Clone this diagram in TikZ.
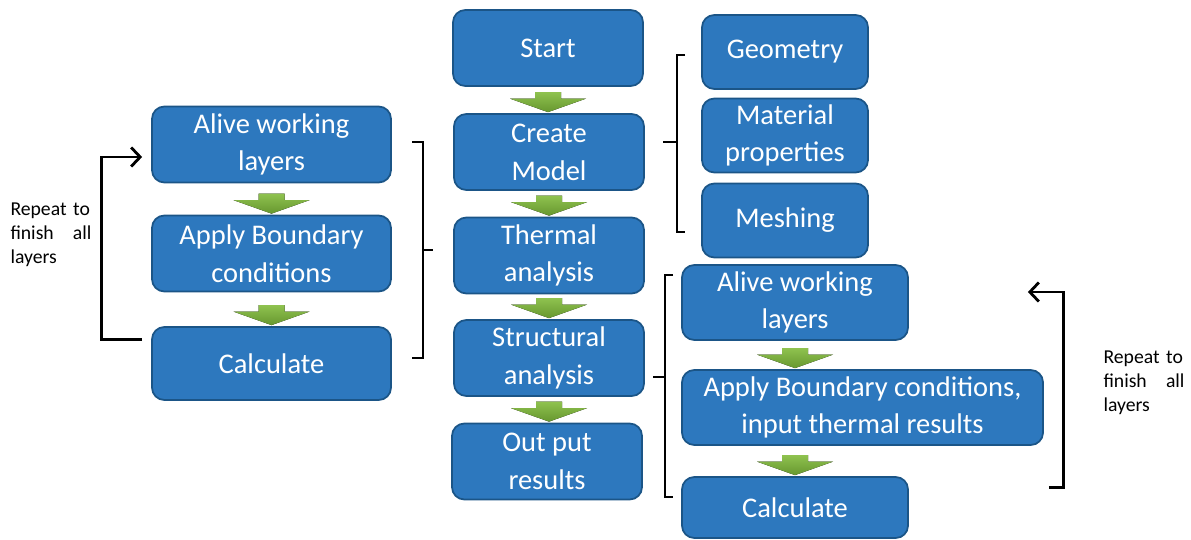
\documentclass[tikz,border=0pt]{standalone}
\usepackage{fontspec}
\setmainfont{Carlito}
\usepackage{tikz}
\usetikzlibrary{arrows.meta,calc}
\definecolor{azul}{HTML}{2D78BE}
\definecolor{borde}{HTML}{1B5587}
\definecolor{verdeA}{HTML}{8FC24F}
\definecolor{verdeB}{HTML}{67972F}

\begin{document}
\begin{tikzpicture}[
    box/.style={draw=borde,fill=azul,line width=1pt,rounded corners=7pt,
                minimum height=1.52cm,align=center,inner sep=2pt,
                font=\fontsize{16.2}{21.5}\selectfont\color{white}},
    brk/.style={line width=1.6pt,black},
    loop/.style={line width=1.6pt,black,-{Straight Barb[length=1.8mm,width=3.8mm]}},
    note/.style={text width=1.62cm,align=left,inner sep=0pt,
                 font=\fontsize{11.2}{13.8}\selectfont},
    flow/.pic={\fill[top color=verdeA,bottom color=verdeB]
        (-0.26,0.40) -- (0.26,0.40) -- (0.26,0.27) -- (0.76,0.27) -- (0,0)
        -- (-0.76,0.27) -- (-0.26,0.27) -- cycle;}]
  \useasboundingbox (0,0) rectangle (23.82,-10.8);

  % main sequence
  \node[box,minimum width=3.8cm] (start)      at (10.96,-0.96) {Start};
  \node[box,minimum width=3.8cm] (model)      at (10.98,-3.04) {Create\\Model};
  \node[box,minimum width=3.8cm] (thermal)    at (10.98,-5.11) {Thermal\\analysis};
  \node[box,minimum width=3.8cm] (structural) at (10.98,-7.16) {Structural\\analysis};
  \node[box,minimum width=3.8cm] (output)     at (10.94,-9.23) {Out put\\results};

  % model inputs
  \node[box,minimum width=3.32cm,minimum height=1.48cm] (geom) at (15.70,-1.04) {Geometry};
  \node[box,minimum width=3.32cm,minimum height=1.48cm] (mat)  at (15.70,-2.71) {Material\\properties};
  \node[box,minimum width=3.32cm,minimum height=1.48cm] (mesh) at (15.70,-4.41) {Meshing};

  % thermal loop
  \node[box,minimum width=4.78cm] (lalive) at (5.43,-2.89) {Alive working\\layers};
  \node[box,minimum width=4.78cm] (lapply) at (5.43,-5.07) {Apply Boundary\\conditions};
  \node[box,minimum width=4.78cm,minimum height=1.46cm] (lcalc) at (5.43,-7.27) {Calculate};

  % structural loop
  \node[box,minimum width=4.52cm,minimum height=1.5cm] (ralive) at (15.90,-6.05) {Alive working\\layers};
  \node[box,minimum width=7.22cm,minimum height=1.5cm] (rapply) at (17.25,-8.15) {Apply Boundary conditions,\\input thermal results};
  \node[box,minimum width=4.52cm,minimum height=1.22cm] (rcalc) at (15.90,-10.15) {Calculate};

  \foreach \a/\b in {start/model,model/thermal,thermal/structural,structural/output,
                     lalive/lapply,lapply/lcalc,ralive/rapply,ralive/rcalc}{
    \pic at ([yshift=0.02cm]\a.south |- \b.north) {flow};
  }

  % brackets
  \draw[brk] (13.70,-1.10) -- (13.54,-1.10) -- (13.54,-4.64) -- (13.70,-4.64);
  \draw[brk] (13.54,-2.84) -- (13.26,-2.84);
  \draw[brk] (8.24,-2.84) -- (8.46,-2.84) -- (8.46,-7.16) -- (8.24,-7.16);
  \draw[brk] (8.46,-5.00) -- (8.66,-5.00);
  \draw[brk] (13.46,-5.50) -- (13.30,-5.50) -- (13.30,-9.94) -- (13.46,-9.94);
  \draw[brk] (13.30,-7.54) -- (13.06,-7.54);

  % repeat arrows
  \draw[loop] ([xshift=-0.18cm,yshift=0.48cm]lcalc.west) -- ++(-0.82,0)
              |- ([xshift=-0.18cm,yshift=-0.25cm]lalive.west);
  \draw[loop] ($(rcalc.east)+(2.8,0.4)$) -- ++(0.3,0)
              |- ($(ralive.east)+(2.38,0.21)$);

  \node[note] (lnote) at (1.02,-4.70) {Repeat to\\finish\hfill all\\layers};
  \node[note] (rnote) at (22.88,-7.66) {Repeat to\\finish\hfill all\\layers};
\end{tikzpicture}
\end{document}
